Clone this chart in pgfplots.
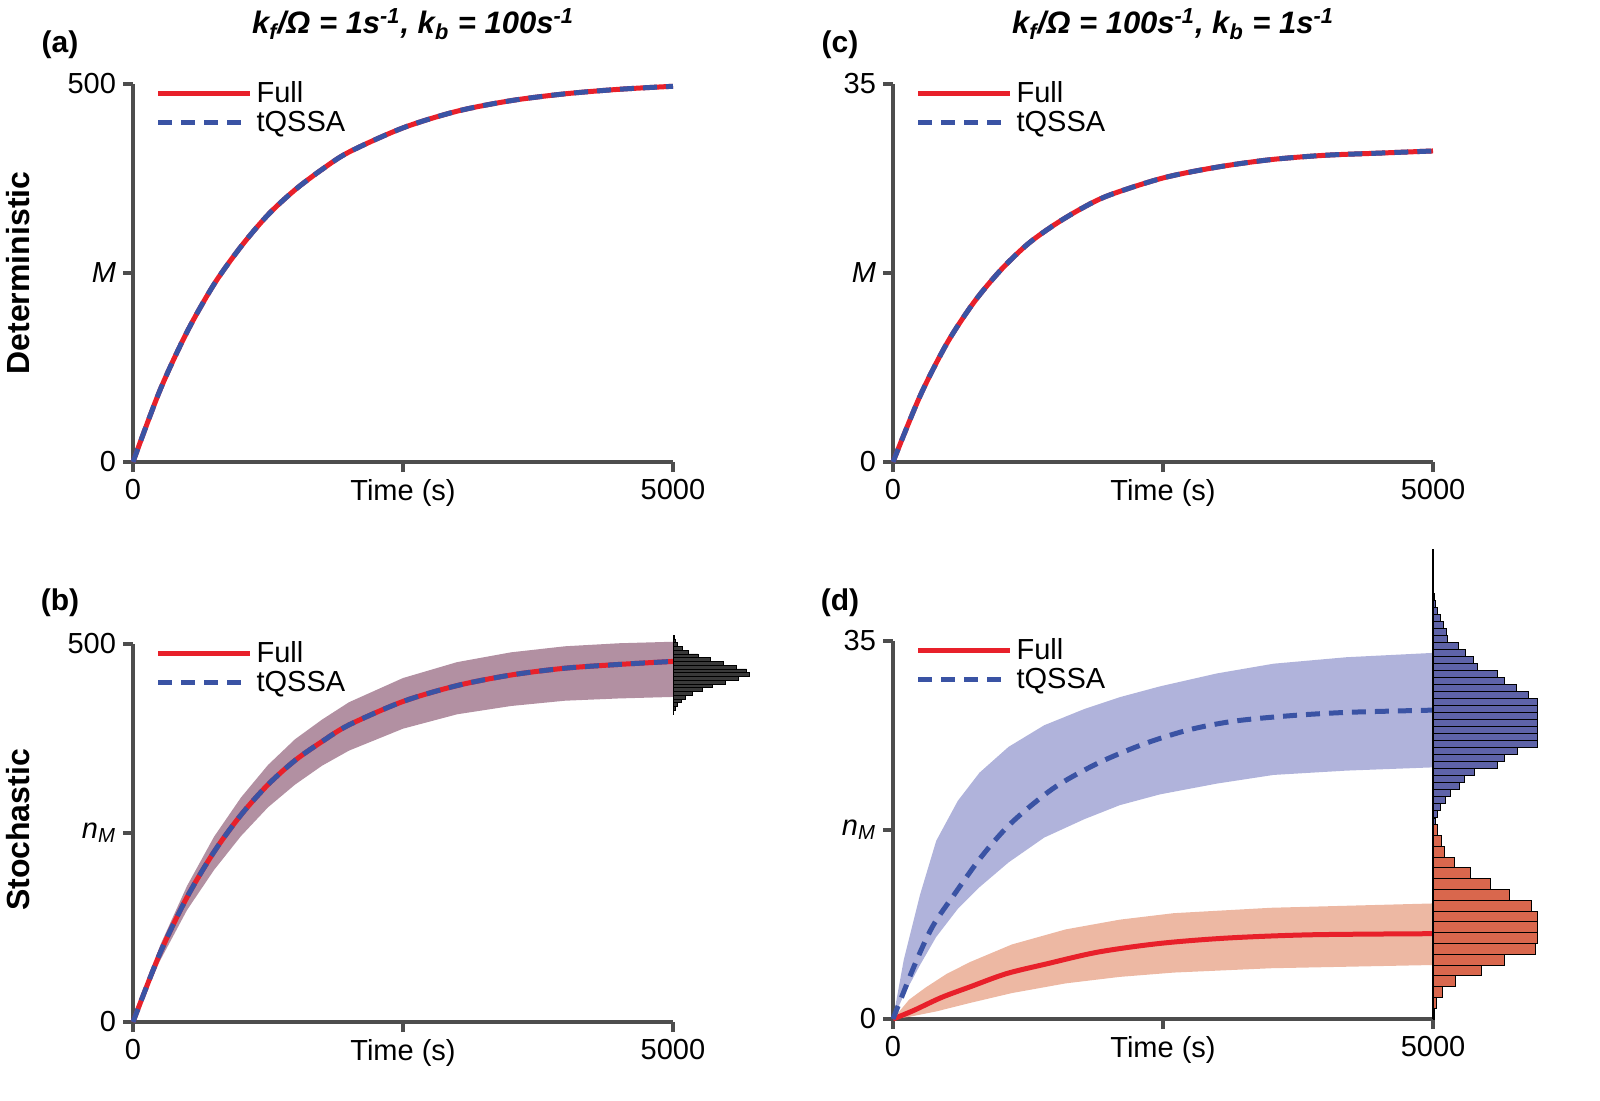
\documentclass[border=0pt]{standalone}
\usepackage{pgfplots}
\pgfplotsset{compat=1.18}
\usepackage{fontspec}
\setmainfont{Liberation Sans}
\definecolor{axg}{HTML}{4D4D4D}
\definecolor{cred}{HTML}{E8202A}
\definecolor{cblue}{HTML}{3A53A4}
\definecolor{bblue}{HTML}{B0B3DB}
\definecolor{bred}{HTML}{EDB8A3}
\definecolor{bmix}{HTML}{A57C92}
\definecolor{hblue}{HTML}{5E63A8}
\definecolor{hred}{HTML}{D9674D}
\pgfplotsset{
 common/.style={scale only axis, width=270pt, height=189pt,
  axis lines=left, axis line style={-, line width=2pt, color=axg},
  tick align=outside, major tick length=5pt, tick style={line width=2pt, color=axg},
  xmin=0, xmax=5000, ymin=0, xtick={0,2500,5000}, xticklabels={0,Time (s),5000},
  tick label style={font=\fontsize{14.5}{16}\selectfont},
  /pgf/number format/assume math mode=true,
  clip=false,
  legend style={at={(0.03,1.03)}, anchor=north west, draw=none, fill=none, font=\fontsize{14.5}{16}\selectfont, row sep=-1pt},
  legend cell align=left,
  legend image code/.code={\draw[##1] (0pt,0pt) -- (46pt,0pt);},
 },
 full/.style={cred, line width=2.5pt},
 tq/.style={cblue, line width=2.5pt, dash pattern=on 7pt off 4.5pt},
}
\begin{document}
\begin{tikzpicture}[x=1pt,y=1pt]
\path[use as bounding box] (0,0) rectangle (800,550);
% (a)
\begin{axis}[common, at={(66.5pt,319pt)}, anchor=south west, ymax=500, ytick={0,250,500}, yticklabels={0,\textit{M},500}]
\addplot[full, smooth] coordinates {(0,0)(250,95)(500,172)(750,235)(1000,285)(1250,327)(1500,360)(1750,387)(2000,410)(2500,442)(3000,464)(3500,478)(4000,487)(4500,493)(5000,497)};
\addplot[tq, smooth] coordinates {(0,0)(250,95)(500,172)(750,235)(1000,285)(1250,327)(1500,360)(1750,387)(2000,410)(2500,442)(3000,464)(3500,478)(4000,487)(4500,493)(5000,497)};
\legend{Full,tQSSA}
\end{axis}
% (c)
\begin{axis}[common, at={(446.5pt,319pt)}, anchor=south west, ymax=35, ytick={0,17.5,35}, yticklabels={0,\textit{M},35}]
\addplot[full, smooth] coordinates {(0,0)(250,6.1)(500,11.0)(750,14.8)(1000,17.8)(1250,20.2)(1500,22.0)(1750,23.5)(2000,24.7)(2500,26.3)(3000,27.3)(3500,28.0)(4000,28.4)(4500,28.6)(5000,28.8)};
\addplot[tq, smooth] coordinates {(0,0)(250,6.1)(500,11.0)(750,14.8)(1000,17.8)(1250,20.2)(1500,22.0)(1750,23.5)(2000,24.7)(2500,26.3)(3000,27.3)(3500,28.0)(4000,28.4)(4500,28.6)(5000,28.8)};
\legend{Full,tQSSA}
\end{axis}
% (b)
\begin{axis}[common, at={(66.5pt,39pt)}, anchor=south west, ymax=500, ytick={0,250,500}, yticklabels={0,\textit{n\textsubscript{M}},500}]
\addlegendimage{full}\addlegendentry{Full}
\addlegendimage{tq}\addlegendentry{tQSSA}
\addplot[draw=none, fill=bmix, fill opacity=0.85, forget plot] coordinates {(0,0)(250,101)(500,180)(750,245)(1000,297)(1250,340)(1500,374)(1750,400)(2000,423)(2500,455)(3000,476)(3500,489)(4000,497)(4500,501)(5000,503)
(5000,430)(4500,428)(4000,425)(3500,418)(3000,407)(2500,388)(2000,359)(1750,339)(1500,314)(1250,284)(1000,246)(750,201)(500,148)(250,81)(0,0)} \closedcycle;
\addplot[full, smooth, forget plot] coordinates {(0,0)(250,91)(500,165)(750,225)(1000,274)(1250,314)(1500,346)(1750,371)(2000,393)(2500,424)(3000,445)(3500,459)(4000,468)(4500,473)(5000,477)};
\addplot[tq, smooth, forget plot] coordinates {(0,0)(250,91)(500,165)(750,225)(1000,274)(1250,314)(1500,346)(1750,371)(2000,393)(2500,424)(3000,445)(3500,459)(4000,468)(4500,473)(5000,477)};
\end{axis}
\begin{axis}[at={(336.5pt,39pt)}, anchor=south west, scale only axis, width=46pt, height=188pt, xmin=0, xmax=350, ymin=0, ymax=500, hide axis, clip=false]
\addplot[xbar, bar width=5, bar shift=0, fill=gray!45!black, draw=black, line width=0.3pt] coordinates {
(3,412)(8,417)(15,422)(30,427)(45,432)(75,437)(110,442)(150,447)(200,452)(250,457)(290,462)(280,467)(240,472)(190,477)(140,482)(95,487)(60,492)(35,497)(18,502)(9,507)(4,512)};
\end{axis}
% (d)
\begin{axis}[common, at={(446.5pt,40.5pt)}, anchor=south west, ymax=35, ytick={0,17.5,35}, yticklabels={0,\textit{n\textsubscript{M}},35}]
\addlegendimage{full}\addlegendentry{Full}
\addlegendimage{tq}\addlegendentry{tQSSA}
\addplot[draw=none, fill=bblue, forget plot] coordinates {(0,0)(100,5.5)(250,11.5)(400,16.5)(600,20.2)(800,22.8)(1070,25.2)(1400,27.2)(1771,28.7)(2100,29.8)(2472,30.8)(3000,32.0)(3524,32.9)(4200,33.5)(5000,33.9)
(5000,23.3)(4200,23.0)(3524,22.6)(3000,21.8)(2472,20.8)(2100,19.8)(1771,18.5)(1400,16.8)(1070,14.5)(800,12.2)(600,10.2)(400,7.6)(250,5.0)(100,2.2)(0,0)} \closedcycle;
\addplot[draw=none, fill=bred, forget plot] coordinates {(0,0)(150,1.8)(300,2.9)(500,4.2)(719,5.3)(1100,6.9)(1600,8.3)(2100,9.2)(2600,9.8)(3500,10.3)(5000,10.7)
(5000,5.0)(3500,4.7)(2600,4.3)(2100,3.9)(1600,3.3)(1100,2.4)(719,1.5)(400,0.7)(150,0.2)(0,0)} \closedcycle;
\addplot[full, smooth, forget plot] coordinates {(0,0)(193,0.8)(450,2.0)(719,3.0)(1050,4.2)(1420,5.1)(1900,6.2)(2472,7.0)(3100,7.5)(3875,7.8)(5000,7.9)};
\addplot[tq, smooth, forget plot] coordinates {(0,0)(200,5.0)(368,8.6)(579,11.7)(824,15.1)(1100,18.2)(1490,21.4)(1900,23.7)(2332,25.5)(2750,26.8)(3173,27.6)(3700,28.1)(4225,28.4)(5000,28.6)};
\end{axis}
\begin{axis}[at={(716.5pt,40.5pt)}, anchor=south west, scale only axis, width=52pt, height=189pt, xmin=0, xmax=350, ymin=0, ymax=35, hide axis, clip=false]
\draw[black, line width=0.8pt] (axis cs:0,0) -- (axis cs:0,43.5);
\addplot[xbar, bar width=1, bar shift=0, fill=hred, draw=black, line width=0.5pt] coordinates {
(4,0.5)(12,1.5)(32,2.5)(77,3.5)(162,4.5)(240,5.5)(345,6.5)(350,7.5)(350,8.5)(350,9.5)(330,10.5)(258,11.5)(195,12.5)(127,13.5)(72,14.5)(40,15.5)(30,16.5)(15,17.5)};
\addplot[xbar, bar width=0.64, bar shift=0, fill=hblue, draw=black, line width=0.4pt] coordinates {
(8,18.3)(15,18.95)(25,19.6)(40,20.25)(60,20.9)(90,21.55)(105,22.2)(140,22.85)(215,23.5)(240,24.15)(285,24.8)(350,25.45)(350,26.1)(350,26.75)(350,27.4)(350,28.05)(350,28.7)(350,29.35)(320,30.0)(280,30.65)(240,31.3)(215,31.95)(150,32.6)(135,33.25)(110,33.9)(85,34.55)(50,35.2)(45,35.85)(35,36.5)(25,37.15)(15,37.8)(8,38.45)(4,39.1)(2,39.75)};
\end{axis}
% labels
\node[font=\bfseries\fontsize{15}{17}\selectfont] at (30,527.5) {(a)};
\node[font=\bfseries\fontsize{15}{17}\selectfont] at (30,248.5) {(b)};
\node[font=\bfseries\fontsize{15}{17}\selectfont] at (420,527.5) {(c)};
\node[font=\bfseries\fontsize{15}{17}\selectfont] at (420,248.5) {(d)};
\node[font=\bfseries\itshape\fontsize{15.5}{17}\selectfont] at (206.5,538) {k\textsubscript{\itshape f}/Ω = 1s\textsuperscript{-1}, k\textsubscript{\itshape b} = 100s\textsuperscript{-1}};
\node[font=\bfseries\itshape\fontsize{15.5}{17}\selectfont] at (586.5,538) {k\textsubscript{\itshape f}/Ω = 100s\textsuperscript{-1}, k\textsubscript{\itshape b} = 1s\textsuperscript{-1}};
\node[font=\bfseries\fontsize{16}{18}\selectfont, rotate=90] at (9,413.5) {Deterministic};
\node[font=\bfseries\fontsize{16}{18}\selectfont, rotate=90] at (9,135) {Stochastic};
\end{tikzpicture}
\end{document}
